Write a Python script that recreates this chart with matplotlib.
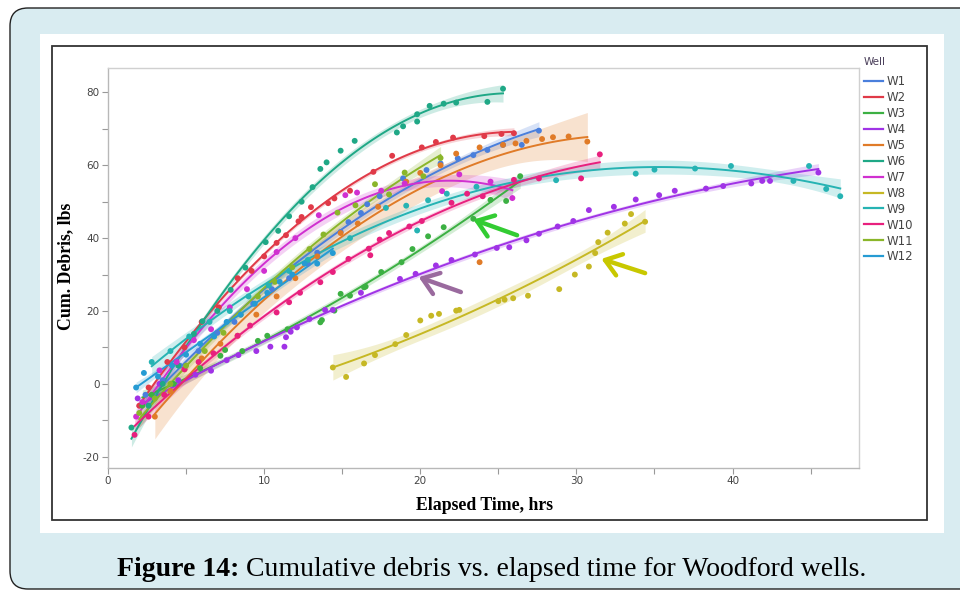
import numpy as np
import matplotlib
matplotlib.use("Agg")
import matplotlib.pyplot as plt
from matplotlib.patches import FancyBboxPatch, Rectangle
from matplotlib.ticker import MultipleLocator

plt.rcParams["axes.unicode_minus"] = False

# ---------------- data (elapsed time hrs, cumulative debris lbs) ----------------
wells = ["W1", "W2", "W3", "W4", "W5", "W6", "W7", "W8", "W9", "W10", "W11", "W12"]
colors = ["#4a7fdc", "#e03a48", "#3cb043", "#a033e6", "#e07b28", "#1fa886",
          "#d030d0", "#c6b824", "#26b3b3", "#e8207e", "#8ab62a", "#269bd3"]

w1_t = [2.4, 3.5, 4.6, 5.8, 7.0, 8.1, 9.3, 10.5, 11.6, 12.8, 13.4, 14.9, 15.4, 16.2,
        16.6, 17.4, 18.9, 20.4, 21.3, 22.4, 23.4, 24.3, 25.3, 26.5, 27.6]
w1_d = [-3, 1, 5, 9, 14, 17, 22, 26, 29, 33, 36, 41.7, 44.4, 46.9,
        49.3, 51.5, 56.4, 58.7, 60.5, 61.9, 62.8, 64.2, 65.6, 65.6, 69.5]

w2_t = [2.0, 2.6, 3.8, 4.9, 6.0, 7.1, 8.3, 9.2, 10.0, 10.8, 11.4, 12.2, 12.4, 13.0,
        14.1, 14.5, 15.5, 17.0, 18.2, 20.1, 21.0, 22.1, 24.1, 25.2, 26.0]
w2_d = [-6, -1, 6, 10, 17, 21, 29, 31, 35, 38.7, 40.8, 44.6, 45.8, 48.5,
        49.6, 50.9, 53, 58.2, 62.6, 64.9, 66.4, 67.6, 68.0, 68.6, 68.8]

w3_t = [2.2, 2.8, 4.2, 5.9, 7.2, 7.5, 8.6, 9.6, 10.2, 11.5, 13.6, 13.7, 14.5, 14.9,
        15.5, 16.4, 16.5, 17.5, 18.8, 19.5, 20.5, 21.5, 23.4, 24.5, 25.5, 26.4]
w3_d = [-6, -3, 0, 4.3, 7.7, 9.3, 9, 11.8, 13.2, 15, 16.9, 17.5, 20.1, 24.7,
        24.2, 26.5, 26.7, 30.7, 33.4, 37, 40.5, 43, 45.3, 50.5, 50.2, 57]

w4_t = [1.9, 3.3, 4.5, 5.6, 6.6, 7.6, 8.35, 9.5, 10.4, 11.3, 11.4, 11.7, 12.1, 12.9,
        13.9, 14.4, 16.2, 18.7, 19.7, 21.0, 22.0, 23.5, 24.9, 25.7, 26.8, 27.6, 28.8,
        29.8, 30.8, 32.4, 33.8, 35.3, 36.3, 38.3, 39.4, 41.2, 41.9, 42.4, 45.5]
w4_d = [-4, 0, 1, 2.5, 3.6, 6.5, 7.9, 9, 10.2, 10.2, 12.8, 14.3, 15.5, 17.8,
        20.3, 20.3, 25, 28.8, 30.2, 32.5, 34, 35.5, 37.3, 37.5, 39.4, 41.2, 43.2,
        44.7, 47.7, 48.6, 50.6, 51.8, 53, 53.6, 54.3, 55, 55.7, 55.7, 58]

w5_t = [3.0, 4.0, 4.9, 6.0, 7.2, 8.3, 9.5, 10.8, 12.0, 13.4, 14.9, 16.0, 17.3, 19.1,
        20.0, 21.3, 22.3, 23.8, 23.8, 25.3, 26.1, 26.8, 27.8, 28.5, 29.5, 30.7]
w5_d = [-9, -2, 4, 7, 11, 13.2, 19, 24, 29, 35, 41.4, 44, 48.6, 55.5,
        57.9, 60, 63.2, 64.9, 33.4, 65.6, 66, 66.7, 67.2, 67.7, 67.9, 66.5]

w6_t = [1.5, 2.6, 3.5, 4.5, 5.5, 6.05, 7.0, 7.86, 8.8, 10.1, 10.9, 11.6, 12.4, 13.1,
        13.6, 14.0, 14.9, 15.8, 18.5, 18.9, 19.8, 19.8, 20.6, 21.5, 22.3, 24.3, 25.3]
w6_d = [-12, -6, 0, 5, 13.7, 17.2, 20, 25.8, 31.9, 38.9, 42, 46, 50, 54,
        59, 60.8, 64, 66.7, 69, 70.7, 72, 74, 76.3, 76.9, 77.2, 77.4, 81]

w7_t = [1.8, 2.2, 3.3, 4.4, 5.5, 6.6, 7.8, 8.9, 10.0, 10.8, 12.0, 13.5, 15.2, 15.95,
        17.5, 19.0, 21.4, 22.5, 24.5, 25.9]
w7_d = [-9, -5, 3.7, 6, 12, 15, 21, 26, 31, 36.2, 40, 46.3, 51.8, 52.5,
        53, 55, 52.9, 57.5, 55.5, 51]

w8_t = [14.4, 15.25, 16.4, 17.1, 18.4, 19.1, 20.0, 20.7, 21.2, 22.3, 22.5, 25.0, 25.4,
        25.95, 26.9, 28.9, 29.9, 30.8, 31.2, 31.4, 32.0, 33.1, 33.5, 34.4]
w8_d = [4.5, 1.9, 5.6, 7.9, 10.9, 13.4, 17.4, 18.7, 19.2, 20.1, 20.3, 22.7, 23.1,
        23.5, 24.2, 26.0, 30.0, 32.2, 35.9, 38.9, 41.5, 44.0, 46.6, 44.5]

w9_t = [2.8, 4.0, 5.2, 6.5, 7.8, 9.0, 10.3, 11.6, 12.8, 15.5, 17.8, 19.1, 19.8, 20.5,
        21.7, 23.6, 28.7, 33.8, 35.0, 37.6, 39.9, 43.9, 44.9, 46.0, 46.9]
w9_d = [6, 9, 13, 17, 20, 24, 27, 31, 34, 40, 48.3, 48.9, 42.1, 50.4,
        52.2, 54.1, 55.9, 57.7, 58.8, 59.1, 59.8, 55.7, 59.8, 53.5, 51.5]

w10_t = [1.7, 2.6, 3.6, 4.9, 5.8, 6.75, 8.3, 9.1, 10.8, 11.6, 12.3, 13.6, 14.4, 15.4,
         16.7, 16.8, 17.4, 18.0, 19.3, 20.1, 22.0, 23.0, 24.0, 26.0, 27.6, 30.3, 31.5]
w10_d = [-14, -9, -3, 4, 6, 8.4, 13.2, 16, 19.6, 22.4, 25, 27.9, 30.7, 34.3,
         37.1, 35.3, 39.6, 41.4, 43.2, 44.7, 49.7, 52.2, 51.5, 56, 56.4, 56.4, 63]

w11_t = [2.0, 3.0, 4.0, 5.0, 6.2, 7.4, 8.5, 9.6, 10.7, 11.8, 12.9, 13.8, 14.7, 15.85,
         17.1, 18.0, 19.0, 20.2, 21.3]
w11_d = [-8, -4, 0, 5, 9, 14, 19, 24, 28, 32, 37, 41, 47, 49,
         54.8, 52, 58, 57, 62]

w12_t = [1.8, 2.3, 3.2, 4.1, 5.0, 5.9, 6.8, 7.6, 8.5, 9.4, 10.2, 11.0, 11.8, 12.6,
         13.4, 14.4]
w12_d = [-1, 3, 2, 5, 8, 11, 13, 17, 19, 22, 25, 28, 30, 33,
         33, 35.9]

times = [w1_t, w2_t, w3_t, w4_t, w5_t, w6_t, w7_t, w8_t, w9_t, w10_t, w11_t, w12_t]
debris = [w1_d, w2_d, w3_d, w4_d, w5_d, w6_d, w7_d, w8_d, w9_d, w10_d, w11_d, w12_d]
fit_degree = [2, 2, 2, 2, 2, 2, 2, 2, 3, 2, 2, 2]

x_ticks = [0, 10, 20, 30, 40]
y_ticks = [-20, 0, 20, 40, 60, 80]

# ---------------- figure ----------------
W, H = 960, 590
fig = plt.figure(figsize=(W / 100, H / 100), dpi=100)
fig.patch.set_facecolor("white")

bg = fig.add_axes([0, 0, 1, 1], zorder=-5)
bg.set_xlim(0, W)
bg.set_ylim(H, 0)
bg.axis("off")
bg.add_patch(FancyBboxPatch((10, 8), 1040, 581,
                            boxstyle="round,pad=0,rounding_size=18",
                            facecolor="#d9ecf1", edgecolor="#222222", lw=1.0))
bg.add_patch(Rectangle((40, 34), 904, 499, facecolor="white", edgecolor="none"))
bg.add_patch(Rectangle((52, 46), 875, 474, facecolor="none", edgecolor="#333333", lw=1.3))

ax = fig.add_axes([108 / W, 1 - 468 / H, 751 / W, 400 / H])
ax.set_xlim(0, 48.1)
ax.set_ylim(-23.1, 86.7)


def fit_band(x, y, deg, n=120):
    x = np.asarray(x, float)
    y = np.asarray(y, float)
    X = np.vander(x, deg + 1)
    beta, *_ = np.linalg.lstsq(X, y, rcond=None)
    resid = y - X @ beta
    dof = max(len(x) - (deg + 1), 1)
    s2 = resid @ resid / dof
    cov = s2 * np.linalg.inv(X.T @ X)
    xs = np.linspace(x.min(), x.max(), n)
    Xs = np.vander(xs, deg + 1)
    yhat = Xs @ beta
    se = np.sqrt(np.einsum("ij,jk,ik->i", Xs, cov, Xs))
    t = 2.05
    return xs, yhat, yhat - t * se, yhat + t * se


for name, c, xt, yd, dg in zip(wells, colors, times, debris, fit_degree):
    xs, yh, lo, hi = fit_band(xt, yd, dg)
    ax.fill_between(xs, lo, hi, color=c, alpha=0.22, lw=0, zorder=1)
    ax.plot(xs, yh, color=c, lw=1.4, zorder=2, label=name)
    ax.scatter(xt, yd, s=18, color=c, edgecolors="none", zorder=3)

# arrows
arrow_kw = dict(arrowstyle="->,head_length=0.55,head_width=0.4", lw=3.2,
                mutation_scale=20, shrinkA=0, shrinkB=0)
ax.annotate("", xy=(23.4, 45.1), xytext=(26.2, 40.8),
            arrowprops=dict(color="#33cc33", **arrow_kw), zorder=6)
ax.annotate("", xy=(19.9, 29.3), xytext=(22.6, 25.2),
            arrowprops=dict(color="#9a6a9e", **arrow_kw), zorder=6)
ax.annotate("", xy=(31.6, 34.3), xytext=(34.4, 30.4),
            arrowprops=dict(color="#c8c800", **arrow_kw), zorder=6)

# axes styling
ax.set_xticks(x_ticks)
ax.set_yticks(y_ticks)
ax.xaxis.set_minor_locator(MultipleLocator(5))
ax.yaxis.set_minor_locator(MultipleLocator(10))
ax.tick_params(which="both", direction="out", length=4, width=0.8, color="#999999",
               labelsize=7.5, labelcolor="#444444", pad=2)
for sp in ax.spines.values():
    sp.set_color("#d0d0d0")
    sp.set_linewidth(1.0)
ax.spines["left"].set_color("#b8b8b8")
ax.spines["bottom"].set_color("#b8b8b8")

fig.text(484 / W, 1 - 505 / H, "Elapsed Time, hrs", ha="center", va="center",
         fontsize=12.8, fontweight="bold", family="Liberation Serif")
fig.text(66 / W, 1 - 266 / H, "Cum. Debris, lbs", ha="center", va="center",
         rotation=90, fontsize=12.8, fontweight="bold", family="Liberation Serif")

# legend
fig.text(864 / W, 1 - 62 / H, "Well", ha="left", va="center", fontsize=7.5,
         color="#4a3f5a")
leg = ax.legend(loc="upper left", bbox_to_anchor=(864 / W, 1 - 75 / H),
                bbox_transform=fig.transFigure, frameon=False, fontsize=8.5,
                handlelength=1.6, handletextpad=0.3, labelspacing=0.25,
                borderpad=0, borderaxespad=0)
for txt in leg.get_texts():
    txt.set_color("#444444")
for ln in leg.get_lines():
    ln.set_linewidth(1.6)

# caption
t1 = fig.text(117 / W, 1 - 570 / H, "Figure 14:", ha="left", va="center",
              fontsize=20, fontweight="bold", family="Liberation Serif")
ax.annotate(" Cumulative debris vs. elapsed time for Woodford wells.",
            xy=(1, 0.5), xycoords=t1, ha="left", va="center",
            fontsize=20, family="Liberation Serif", annotation_clip=False)

fig.savefig("out.png", dpi=100, facecolor=fig.get_facecolor())
